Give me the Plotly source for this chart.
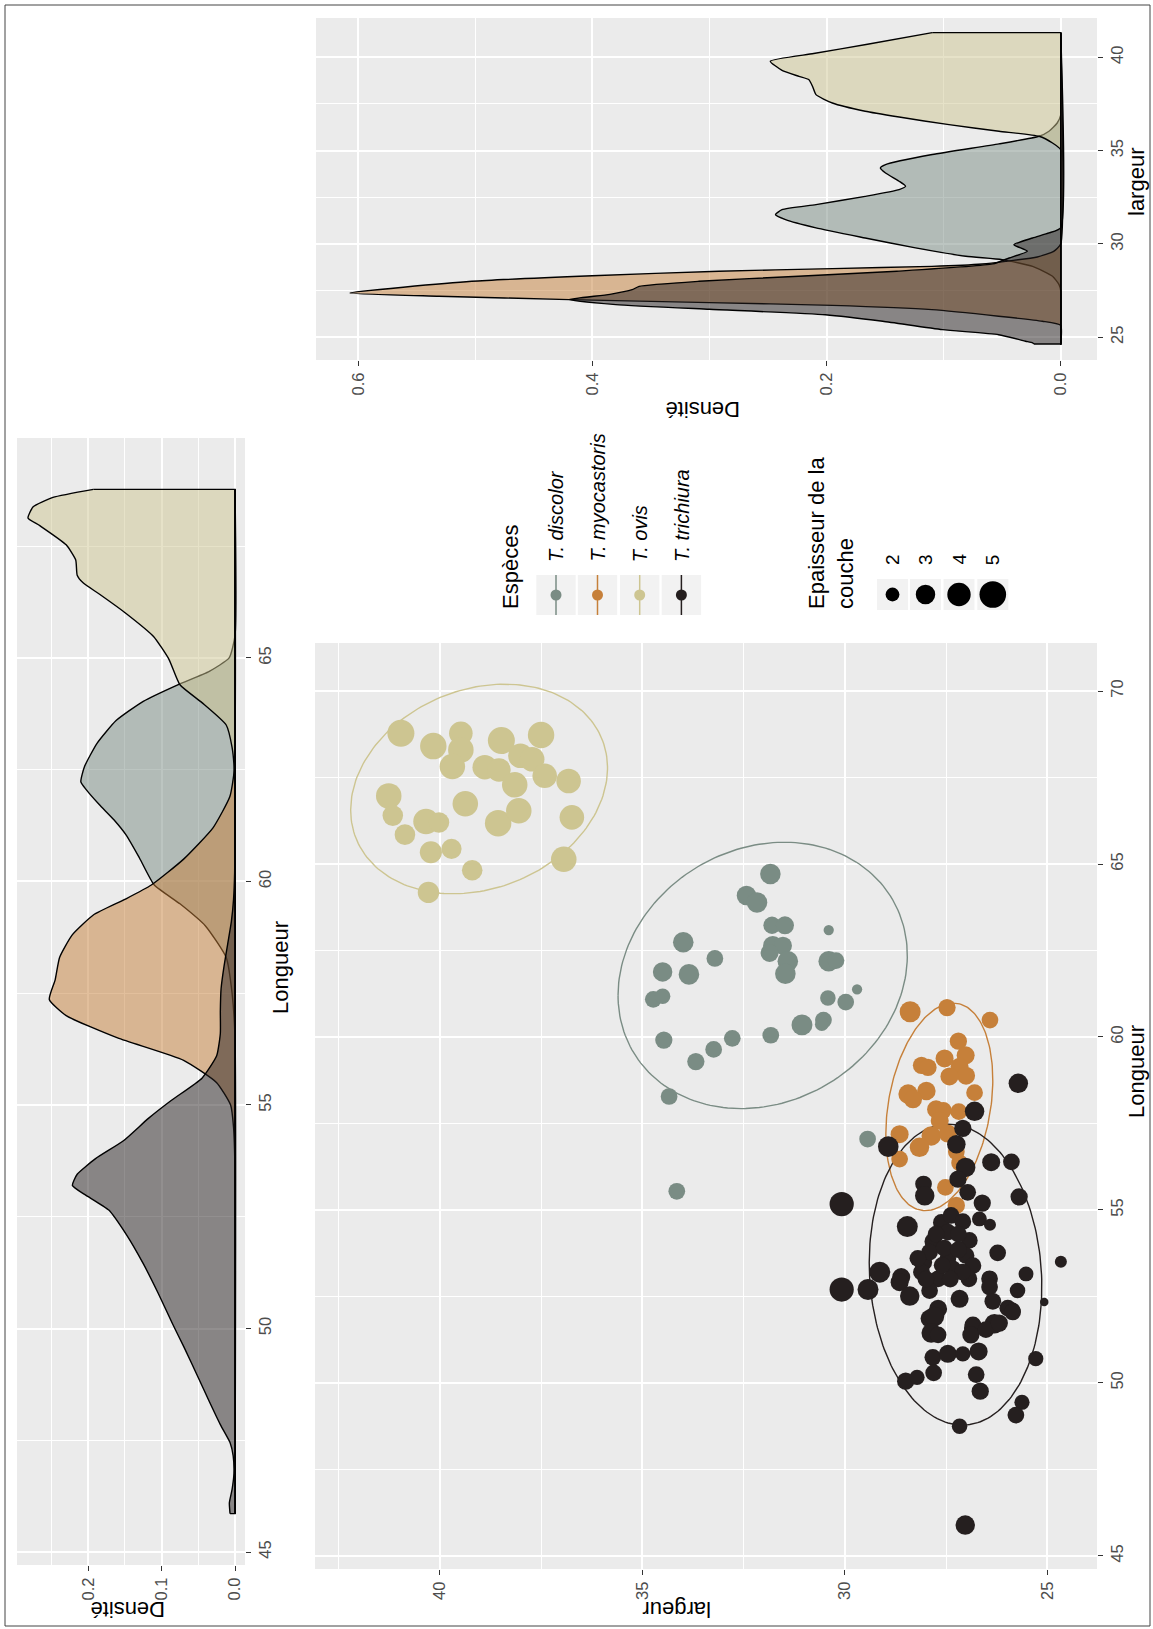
import numpy as np
import plotly.graph_objects as go

W, H = 1153, 1629

SPECIES = ["T. discolor", "T. myocastoris", "T. ovis", "T. trichiura"]
COLORS = ["#7A8C84", "#C6803A", "#CDC591", "#251F1F"]
FILLS = ["rgba(122,140,132,0.5)", "rgba(198,128,58,0.5)", "rgba(205,197,145,0.5)", "rgba(37,31,31,0.5)"]

# ---------------- scatter data: largeur, Longueur, Epaisseur de la couche ----------------
DIS_LARG = [31.84, 32.43, 32.17, 31.80, 31.48, 30.40, 33.99, 33.21, 34.50, 33.85, 34.73, 34.50, 31.78, 31.53,
            31.86, 31.41, 31.47, 30.40, 30.22, 29.70, 30.42, 29.98, 34.47, 33.68, 33.24, 32.78, 31.83, 31.06,
            30.53, 30.57, 34.34, 29.44, 34.15]
DIS_LONG = [64.71, 64.09, 63.89, 63.23, 63.23, 63.09, 62.74, 62.27, 61.88, 61.81, 61.09, 61.18, 62.64, 62.64,
            62.43, 62.19, 61.83, 62.19, 62.21, 61.38, 61.13, 61.01, 59.91, 59.29, 59.64, 59.96, 60.05, 60.35,
            60.49, 60.37, 58.28, 57.05, 55.54]
DIS_EP = [3.25, 3.0, 3.25, 2.55, 2.7, 1.65, 3.25, 2.45, 3.0, 3.25, 2.45, 2.25, 3.0, 2.7,
          2.7, 3.25, 3.25, 3.25, 2.45, 1.65, 2.25, 2.45, 2.55, 2.55, 2.45, 2.45, 2.45, 3.35,
          2.45, 2.0, 2.45, 2.45, 2.45]

MYO_LARG = [28.39, 27.48, 26.42, 27.20, 27.54, 27.02, 28.11, 27.95, 27.17, 27.01, 27.42, 26.80, 28.44, 27.99,
            28.32, 27.75, 27.57, 27.19, 28.65, 27.66, 27.87, 28.16, 27.46, 27.25, 28.65, 27.17, 27.52, 27.25]
MYO_LONG = [60.73, 60.85, 60.49, 59.88, 59.38, 59.47, 59.18, 59.12, 59.14, 58.88, 58.86, 58.39, 58.35, 58.44,
            58.20, 57.91, 57.88, 57.84, 57.19, 57.58, 57.14, 56.81, 57.21, 56.68, 56.47, 56.36, 55.65, 55.13]
MYO_EP = [3.35, 2.55, 2.45, 2.55, 2.7, 2.7, 2.55, 2.55, 2.7, 2.7, 2.7, 2.45, 3.0, 2.8,
          2.7, 2.7, 2.45, 2.45, 2.7, 2.7, 3.0, 3.0, 2.7, 2.45, 2.45, 2.45, 2.45, 2.55]

OVI_LARG = [40.96, 40.16, 39.48, 39.48, 39.69, 38.48, 37.50, 38.89, 38.54, 38.01, 37.72, 38.15, 37.41, 36.82,
            41.26, 41.16, 40.34, 40.02, 39.37, 40.86, 40.22, 39.71, 39.20, 38.56, 38.05, 36.74, 36.94, 40.28]
OVI_LONG = [68.78, 68.41, 68.78, 68.30, 67.82, 68.57, 68.73, 67.80, 67.72, 68.13, 68.03, 67.29, 67.55, 67.40,
            66.97, 66.40, 66.23, 66.20, 66.74, 65.85, 65.34, 65.44, 64.82, 66.18, 66.54, 66.35, 65.14, 64.18]
OVI_EP = [5.15, 4.95, 4.05, 4.65, 4.65, 5.15, 4.95, 4.35, 4.05, 4.35, 4.35, 4.65, 4.35, 4.35,
          4.65, 3.25, 4.65, 3.25, 4.65, 3.25, 3.65, 3.15, 3.25, 4.95, 4.65, 4.35, 4.65, 3.45]

TRI_LARG = [25.72, 26.80, 27.09, 28.93, 27.25, 27.02, 27.21, 26.39, 25.89, 28.06, 28.03, 26.97, 26.61, 25.70,
            30.08, 28.46, 27.62, 27.38, 27.09, 26.68, 26.42, 27.46, 26.93, 27.83, 26.23, 24.67, 29.14, 25.53,
            28.61, 28.07, 27.91, 27.46, 27.34, 27.01, 26.84, 28.11, 27.70, 26.94, 26.43, 30.08, 29.43, 28.65,
            28.40, 27.91, 27.17, 26.43, 26.35, 25.74, 25.98, 25.86, 25.08, 27.70, 27.91, 26.84, 26.31, 27.79,
            27.87, 27.70, 26.84, 26.89, 26.52, 26.19, 25.86, 27.83, 27.46, 27.09, 26.70, 25.29, 27.81, 26.76,
            26.66, 28.50, 28.22, 25.63, 25.78, 27.17, 27.03, 27.75, 27.20, 27.55, 27.20, 28.20, 27.60, 27.10,
            27.40, 28.00]
TRI_LONG = [58.66, 57.85, 57.36, 56.83, 56.90, 56.23, 55.89, 56.38, 56.39, 55.75, 55.41, 55.51, 55.20, 55.38,
            55.17, 54.52, 54.64, 54.84, 54.66, 54.74, 54.57, 54.36, 54.12, 54.09, 53.76, 53.50, 53.20, 53.15,
            53.06, 53.49, 53.78, 53.59, 53.30, 53.68, 53.39, 53.20, 53.01, 53.01, 53.01, 52.70, 52.70, 52.91,
            52.51, 52.67, 52.43, 52.77, 52.36, 52.67, 52.16, 52.10, 52.34, 52.14, 51.86, 51.68, 51.71, 51.92,
            51.44, 51.39, 51.59, 51.39, 51.54, 51.73, 52.05, 50.74, 50.84, 50.84, 50.91, 50.70, 50.29, 50.24,
            49.76, 50.05, 50.16, 49.44, 49.07, 48.75, 45.89, 54.30, 54.30, 53.90, 53.85, 53.60, 53.40, 53.20,
            53.00, 53.00]
TRI_EP = [3.0, 3.0, 2.55, 3.25, 2.8, 3.0, 2.55, 2.7, 2.45, 2.45, 3.0, 2.45, 2.55, 2.55,
          4.25, 3.35, 2.45, 2.45, 2.45, 2.15, 1.8, 2.45, 2.45, 2.45, 2.45, 1.8, 3.35, 2.15,
          2.7, 2.7, 2.45, 2.45, 2.45, 2.45, 2.45, 2.45, 2.45, 2.45, 2.45, 4.25, 3.35, 2.7,
          3.0, 2.45, 2.7, 2.45, 2.45, 2.25, 2.45, 2.25, 1.55, 2.7, 2.7, 2.45, 3.0, 3.0,
          3.0, 2.45, 2.7, 2.55, 2.45, 2.55, 2.45, 2.45, 2.7, 2.2, 2.7, 2.2, 2.45, 2.45,
          2.55, 2.55, 2.2, 2.2, 2.45, 2.25, 3.0, 2.45, 2.45, 2.45, 2.45, 2.45, 2.45, 2.45,
          2.45, 2.45]

# ---------------- ellipses (stat_ellipse): centre, half extents, correlation -------------
ELL_CX = [32.03, 27.67, 39.03, 27.27]
ELL_CY = [61.78, 57.98, 67.17, 53.13]
ELL_HX = [3.57, 1.32, 3.17, 2.13]
ELL_HY = [3.85, 3.00, 3.03, 4.35]
ELL_RHO = [-0.15, -0.26, -0.20, 0.08]

# ---------------- density of Longueur (top-left panel) ----------------
DIS_LD_X = [45.86, 56.5, 57.5, 58.3, 59.0, 59.5, 59.92, 60.52, 61.03, 61.38, 61.72, 62.06, 62.23, 62.57, 63.09,
            63.6, 64.03, 64.4, 64.7, 65.0, 65.5, 68.77]
DIS_LD_Y = [0, 0, 0.004, 0.012, 0.04, 0.075, 0.11, 0.13, 0.148, 0.165, 0.185, 0.203, 0.21, 0.205, 0.188,
            0.162, 0.125, 0.078, 0.035, 0.008, 0.0, 0]
MYO_LD_X = [45.86, 53.5, 54.5, 55.0, 55.5, 56.0, 56.5, 57.0, 57.36, 57.8, 58.3, 58.8, 59.25, 59.6, 59.92, 60.5,
            61.2, 61.9, 62.5, 68.77]
MYO_LD_Y = [0, 0, 0.002, 0.006, 0.025, 0.07, 0.16, 0.23, 0.253, 0.245, 0.239, 0.222, 0.193, 0.15, 0.114, 0.07,
            0.03, 0.007, 0.001, 0]
OVI_LD_X = [45.86, 61.5, 62.5, 63.0, 63.5, 64.0, 64.4, 64.97, 65.48, 65.99, 66.42, 66.68, 66.85, 67.19, 67.53,
            67.96, 68.13, 68.38, 68.59, 68.77]
OVI_LD_Y = [0, 0, 0.001, 0.004, 0.012, 0.045, 0.075, 0.09, 0.111, 0.148, 0.184, 0.207, 0.215, 0.217, 0.23,
            0.266, 0.282, 0.275, 0.248, 0.193]
TRI_LD_X = [45.86, 46.1, 46.4, 46.75, 47.15, 47.45, 47.85, 48.4, 48.9, 49.6, 50.1, 50.8, 51.45, 52.1, 52.65,
            53.0, 53.2, 53.45, 53.8, 54.2, 54.7, 55.1, 55.6, 56.1, 56.6, 57.1, 57.6, 58.1, 58.6, 59.1, 59.6,
            60.2, 61.0, 68.77]
TRI_LD_Y = [0.0068, 0.0077, 0.004, 0.0015, 0.0025, 0.0068, 0.02, 0.036, 0.05, 0.07, 0.085, 0.105, 0.125, 0.148,
            0.172, 0.205, 0.2215, 0.215, 0.19, 0.152, 0.118, 0.087, 0.045, 0.025, 0.02, 0.02, 0.019, 0.015,
            0.01, 0.005, 0.002, 0.0005, 0.0, 0.0]

# ---------------- density of largeur (top-right panel) ----------------
DIS_WD_X = [24.62, 27.5, 27.82, 28.27, 28.8, 29.16, 29.34, 29.79, 30.32, 30.86, 31.30, 31.57, 31.84, 32.11,
            32.55, 32.91, 33.09, 33.36, 33.80, 34.07, 34.25, 34.79, 35.36, 35.77, 36.04, 36.48, 36.9, 41.32]
DIS_WD_Y = [0, 0, 0.0014, 0.007, 0.024, 0.05, 0.081, 0.124, 0.167, 0.209, 0.235, 0.2436, 0.238, 0.209,
            0.167, 0.138, 0.1325, 0.138, 0.1496, 0.154, 0.1496, 0.1097, 0.0527, 0.0185, 0.01, 0.003, 0, 0]
MYO_WD_X = [24.62, 25.64, 25.86, 26.13, 26.48, 26.71, 26.86, 27.02, 27.2, 27.375, 28.0, 28.3, 28.54, 28.68,
            28.8, 28.93, 29.07, 29.3, 29.6, 30.0, 41.32]
MYO_WD_Y = [0, 0, 0.0157, 0.053, 0.110, 0.195, 0.30, 0.42, 0.531, 0.607, 0.503, 0.40, 0.292, 0.195,
            0.11, 0.067, 0.047, 0.02, 0.006, 0.0, 0]
OVI_WD_X = [24.62, 34.5, 35.05, 35.41, 35.77, 36.04, 36.39, 36.80, 37.11, 37.55, 38.0, 38.45, 38.80, 38.98,
            39.3, 39.79, 40.2, 40.7, 41.32]
OVI_WD_Y = [0, 0, 0.0, 0.007, 0.0185, 0.0527, 0.0954, 0.138, 0.167, 0.195, 0.209, 0.212, 0.215, 0.2236,
            0.238, 0.248, 0.211, 0.165, 0.1097]
TRI_WD_X = [24.64, 24.70, 24.79, 25.14, 25.41, 25.86, 26.21, 26.5, 26.75, 27.02, 27.3, 27.55, 27.73, 28.0,
            28.27, 28.54, 28.93, 29.25, 29.61, 29.96, 30.32, 30.59, 30.86, 41.32]
TRI_WD_Y = [0.0228, 0.024, 0.03, 0.053, 0.101, 0.152, 0.201, 0.30, 0.38, 0.42, 0.385, 0.366, 0.36, 0.309,
            0.224, 0.14, 0.058, 0.044, 0.0285, 0.040, 0.024, 0.010, 0, 0]

LEG_SIZES = [2, 3, 4, 5]

SCAT = [(DIS_LARG, DIS_LONG, DIS_EP), (MYO_LARG, MYO_LONG, MYO_EP), (OVI_LARG, OVI_LONG, OVI_EP),
        (TRI_LARG, TRI_LONG, TRI_EP)]
LDENS = [(DIS_LD_X, DIS_LD_Y), (MYO_LD_X, MYO_LD_Y), (OVI_LD_X, OVI_LD_Y), (TRI_LD_X, TRI_LD_Y)]
WDENS = [(DIS_WD_X, DIS_WD_Y), (MYO_WD_X, MYO_WD_Y), (OVI_WD_X, OVI_WD_Y), (TRI_WD_X, TRI_WD_Y)]


def size_px(v):
    v = np.clip(np.asarray(v, dtype=float), 1.5, None)
    return 6 + 22 * np.sqrt((v - 1.5) / 4.0)


def fx(x):
    return x / W


def fy(y):
    return 1 - y / H


FONT = "Liberation Sans, Arial, Helvetica, sans-serif"
TICKF = dict(family=FONT, size=16.5, color="#4D4D4D")

fig = go.Figure()


def density_traces(dens, xa, ya):
    for i, (xs, ds) in enumerate(dens):
        # smooth density curve, filled to the zero-density baseline
        fig.add_trace(go.Scatter(x=ds, y=xs, xaxis=xa, yaxis=ya, mode="lines", fill="tozerox",
                                 fillcolor=FILLS[i],
                                 line=dict(color="black", width=1.4, shape="spline", smoothing=0.5),
                                 showlegend=False, hoverinfo="skip"))
        # straight end cuts and baseline of the density outline
        fig.add_trace(go.Scatter(x=[ds[-1], 0, 0, ds[0]], y=[xs[-1], xs[-1], xs[0], xs[0]], xaxis=xa,
                                 yaxis=ya, mode="lines", line=dict(color="black", width=1.4),
                                 showlegend=False, hoverinfo="skip"))


density_traces(LDENS, "x", "y")
density_traces(WDENS, "x2", "y2")

# scatter: ellipses then points
t = np.linspace(0, 2 * np.pi, 200)
for i in range(4):
    cx, cy, hx, hy, r = ELL_CX[i], ELL_CY[i], ELL_HX[i], ELL_HY[i], ELL_RHO[i]
    ex = cx + hx * np.cos(t)
    ey = cy + r * hy * np.cos(t) + hy * np.sqrt(1 - r * r) * np.sin(t)
    fig.add_trace(go.Scatter(x=ex, y=ey, xaxis="x3", yaxis="y3", mode="lines",
                             line=dict(color=COLORS[i], width=1.4), showlegend=False, hoverinfo="skip"))
for i, (lg, ln, ep) in enumerate(SCAT):
    fig.add_trace(go.Scatter(x=lg, y=ln, xaxis="x3", yaxis="y3", mode="markers",
                             marker=dict(size=size_px(ep), color=COLORS[i], opacity=1, line=dict(width=0)),
                             showlegend=False, name=SPECIES[i]))


def ax(domain, rng, tickvals, ticktext, minor, anchor, side=None):
    d = dict(domain=domain, range=rng, anchor=anchor, tickmode="array", tickvals=tickvals,
             ticktext=ticktext, showgrid=True, gridcolor="white", gridwidth=2, zeroline=False,
             showline=False, ticks="outside", ticklen=5, tickwidth=1, tickcolor="#333333",
             tickfont=TICKF, tickangle=-90,
             minor=dict(tickvals=minor, showgrid=True, gridcolor="white", gridwidth=1, ticks=""))
    if side:
        d["side"] = side
    return d


layout = dict(
    width=W, height=H, margin=dict(l=0, r=0, t=0, b=0), autosize=False,
    paper_bgcolor="white", plot_bgcolor="#EBEBEB", showlegend=False,
    xaxis=ax([fx(17), fx(245)], [0.297, -0.0136], [0, 0.1, 0.2], ["0.0", "0.1", "0.2"],
             [0.05, 0.15, 0.25], "y"),
    yaxis=ax([fy(1565), fy(438)], [44.71, 69.92], [45, 50, 55, 60, 65], ["45", "50", "55", "60", "65"],
             [47.5, 52.5, 57.5, 62.5, 67.5], "x", side="right"),
    xaxis2=ax([fx(316), fx(1097)], [0.636, -0.031], [0, 0.2, 0.4, 0.6], ["0.0", "0.2", "0.4", "0.6"],
              [0.1, 0.3, 0.5], "y2"),
    yaxis2=ax([fy(360), fy(18)], [23.784, 42.105], [25, 30, 35, 40], ["25", "30", "35", "40"],
              [27.5, 32.5, 37.5], "x2", side="right"),
    xaxis3=ax([fx(315), fx(1097)], [43.08, 23.778], [25, 30, 35, 40], ["25", "30", "35", "40"],
              [27.5, 32.5, 37.5, 42.5], "y3"),
    yaxis3=ax([fy(1569), fy(643)], [44.62, 71.39], [45, 50, 55, 60, 65, 70],
              ["45", "50", "55", "60", "65", "70"], [47.5, 52.5, 57.5, 62.5, 67.5], "x3", side="right"),
)
fig.update_layout(**layout)

ann = []


def text(x, y, s, angle, size=22, xanchor="center", yanchor="middle", italic=False, align="center"):
    f = dict(family=FONT, size=size, color="black")
    if italic:
        f["style"] = "italic"
    ann.append(dict(x=fx(x), y=fy(y), xref="paper", yref="paper", text=s, textangle=angle, showarrow=False,
                    font=f, xanchor=xanchor, yanchor=yanchor, align=align))


# axis titles
text(280, 968, "Longueur", -90)
text(128, 1610, "Densité", 180)
text(1136, 182, "largeur", -90)
text(702, 410, "Densité", 180)
text(1136, 1072, "Longueur", -90)
text(677, 1610, "largeur", 180)

# legend
shapes = []
KEY_X = [556.0, 597.5, 639.7, 681.4]
for i in range(4):
    cx = KEY_X[i]
    shapes.append(dict(type="rect", xref="paper", yref="paper", x0=fx(cx - 19.7), x1=fx(cx + 19.7),
                       y0=fy(615), y1=fy(575), fillcolor="#F2F2F2", line=dict(width=0), layer="above"))
    shapes.append(dict(type="line", xref="paper", yref="paper", x0=fx(cx), x1=fx(cx), y0=fy(615), y1=fy(575),
                       line=dict(color=COLORS[i], width=1.5), layer="above"))
    r = 5.5
    shapes.append(dict(type="circle", xref="paper", yref="paper", x0=fx(cx - r), x1=fx(cx + r),
                       y0=fy(595 + r), y1=fy(595 - r), fillcolor=COLORS[i], line=dict(width=0), layer="above"))
    text(cx, 564, SPECIES[i], -90, size=20, yanchor="bottom", italic=True)
text(510, 611, "Espèces", -90, size=22, yanchor="bottom")
text(831, 611, "Epaisseur de la<br>couche", -90, size=22, yanchor="bottom", align="left")
SIZE_X = [892.5, 925.5, 959.0, 992.8]
for i, v in enumerate(LEG_SIZES):
    cx = SIZE_X[i]
    shapes.append(dict(type="rect", xref="paper", yref="paper", x0=fx(cx - 15.5), x1=fx(cx + 15.5),
                       y0=fy(610), y1=fy(579), fillcolor="#F2F2F2", line=dict(width=0), layer="above"))
    r = float(size_px(v)) / 2
    shapes.append(dict(type="circle", xref="paper", yref="paper", x0=fx(cx - r), x1=fx(cx + r),
                       y0=fy(594.5 + r), y1=fy(594.5 - r), fillcolor="black", line=dict(width=0), layer="above"))
    text(cx, 567, str(v), -90, size=19, yanchor="bottom")

# outer frame
shapes.append(dict(type="rect", xref="paper", yref="paper", x0=fx(5), x1=fx(1150), y0=fy(1626), y1=fy(5),
                   line=dict(color="#444444", width=1), fillcolor="rgba(0,0,0,0)", layer="above"))

fig.update_layout(annotations=ann, shapes=shapes)
fig.write_html("out.html", config={"displayModeBar": False},
               post_script="document.body.style.margin='0px';document.body.style.overflow='hidden';")
